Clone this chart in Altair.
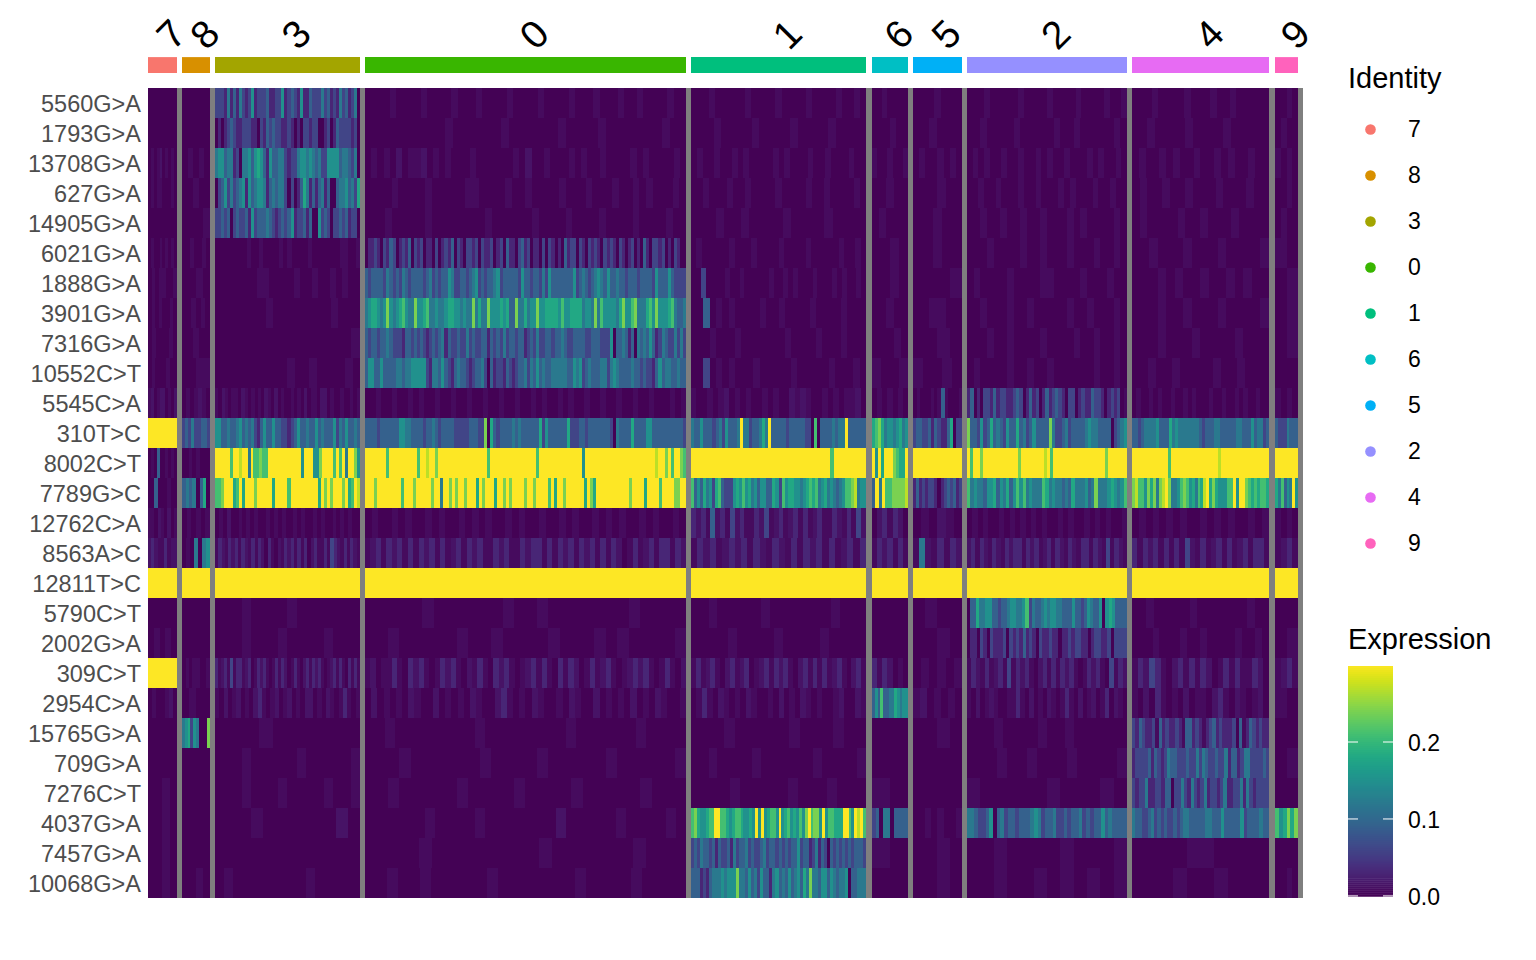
import altair as alt
import pandas as pd

CLUSTERS = ["7", "8", "3", "0", "1", "6", "5", "2", "4", "9"]
CLUSTER_COLORS = ["#F8766D", "#D89000", "#A3A500", "#39B600", "#00BF7D", "#00BFC4", "#00B0F6", "#9590FF", "#E76BF3", "#FF62BC"]
CLUSTER_CELLS = [29, 28, 145, 321, 175, 36, 49, 160, 137, 23]
GAP_CELLS = [5, 5, 5, 5, 6, 5, 5, 5, 6, 5]
GENES = ["5560G>A", "1793G>A", "13708G>A", "627G>A", "14905G>A", "6021G>A", "1888G>A", "3901G>A", "7316G>A", "10552C>T",
         "5545C>A", "310T>C", "8002C>T", "7789G>C", "12762C>A", "8563A>C", "12811T>C", "5790C>T", "2002G>A", "309C>T",
         "2954C>A", "15765G>A", "709G>A", "7276C>T", "4037G>A", "7457G>A", "10068G>A"]
LEVELS = {"0": 0, "a": 0.022, "b": 0.045, "1": 0.1, "2": 0.2, "3": 0.3, "4": 0.4, "5": 0.5, "6": 0.6, "7": 0.7, "8": 0.8, "9": 0.9, "x": 1.0}
MAX_EXPRESSION = 0.3

# one string per cluster, in CLUSTERS order; each letter is a read level, spread evenly over the cluster
R00 = ["0", "0", "2221 4131 4212 5122 2311 2251 2321 5113 2224 2312 1423 1240", "0000 a000 0a00 00a0 00a0 000a 0000 a000 0a00 0a00 0a00 a000 0a00", "000a 0000 0a00 00a0 000a 0000 a00a 0", "00a0 000", "000a 000", "000a 0000 0a00 00a0 000a 0000 a00a", "000a 0000 a000 a00a 0000 0", "00a0"]
R01 = ["0", "0", "0101 2321 1222 1102 1323 2211 2101 0221 2200 1201 3222 2120", "0000 0000 00a0 0000 0a00 0000 a000 0a00 0000 0a00", "000a 0000 a000 0a00 00a0 000", "000a 00", "00a0 00", "00a0 000a 0000 0a00 a000 00a0", "00a0 000a 0000 a000 00", "0a00"]
R02 = ["0a0a b0a0 a0", "0a0a 0", "4553 4412 0445 3565 3153 3442 1224 5545 4342 2555 5344 3240", "0a0a 0b0a ab0a 0a00 0a00 0000 a0b0 0a00 0a0a 00a0 000a 0a00 00a0", "0a00 a00a 0a00 00a0 a000 a00a 000a 00", "a00a 00a", "0a00 a0a0", "0a0a 00a0 0a00 a0a0 0a00 0a0a 00a0", "0a00 a0a0 0a00 a0a0 0a00", "a0a0"]
R03 = ["0a0a a000 a0", "00a0 0", "0235 2423 4515 3455 4134 3442 0201 3641 3134 1300 3445 3426", "0000 a000 0a00 000a a000 0a00 a000 0a00 0a00 0a00 a0a0 00a0", "00a0 00a0 0a00 00a0 000a 00a0 000a 0", "00a0 0", "000a 00", "00a0 0a00 0a00 a000 a0a0 00a0 0a00", "0a00 a00a 000a 000a 00", "00a0"]
R04 = ["0", "000a", "2232 3023 2231 5233 3432 1232 3512 2313 0052 3202 2323 1220", "000a 0000 0a00 0000 00a0 0000 0a00 00a0 000a 0000 a000 0a00", "000a 00a0 000a 0000 a000 0", "0a00 0", "00a0 0", "00a0 0a00 a00a 000a 0a00 00a0", "0a00 00a0 0a00 0a00 00", "0a00"]
R05 = ["0a00 a0a0 a0", "00a0 0a0", "0000 0000 a00a 0000 a0a0 000a 0000 000a a00a", "0112 1021 3201 2130 2120 1102 0121 3021 0221 2021 1201 2031 1023 1201 1020 2101 0312 2021 0212 1021 2102 1012 0103 1022 1201 0210 0", "0a00 000a 000a 0000 a000 0a00 000a 00a0", "00a0", "00a0 0", "000a 0000 a00a 000a 000a 00a0", "00a0 00a0 00a0 000a", "a0"]
R06 = ["0a0a a00a", "00a0", "0000 000a a000 0a00 a00a 0a00", "3233 3324 3232 4323 3332 3423 2335 4223 3234 5232 3345 2333 3325 3323 3242 5333 3333 5234 3234 5435 3343 3233 3233 3325 3335 3222 2", "0020 000a 00a0 0000 a00a 0a00 0a00 0a0a 00a0", "00a0", "000a", "0a00 00a0 000a a000 0a00 0a00", "000a 0a00 a00a 0a00", "0a"]
R07 = ["0a0a 00a0", "00a0 a0", "0000 000a 0000 0000 a000", "4566 5458 5456 7544 8556 7445 4456 6554 5448 4644 8555 6563 3844 6455 8556 6665 7556 6664 5548 4755 5546 8557 8444 6758 5556 7433 4", "0030 a0a0 000a 00a0 000a 0000 a000", "00a0 0", "0a0", "00a0 00a0 0a00 000a 00a0 00a0", "000a 00a0 00a0 000a", "0a"]
R08 = ["0a00 0a0", "00a0 0", "0000 0000 0000 000a", "3233 2334 3222 1332 3232 1232 3413 2232 2423 2233 1323 2423 3233 1232 4223 3233 4322 3333 2233 3222 5033 4313 0434 3531 2432 2424 2", "000a 000a 0000 000a 0000 a000 a000", "000a 0", "00a0", "000a 00a0 000a 0000 a00a 00a0", "000a 000a 0000 a000", "0a"]
R09 = ["0a00 0a00", "0a", "0000 0000 00a0 0a00 00a0", "3553 3533 3344 3445 5555 2144 3532 1343 3212 3342 0312 2132 1233 4243 5343 3444 4433 5452 3433 3442 4543 3334 3323 2213 5344 3343 3", "0020 a0a0 00a0 0000 a000 00a0 00a0", "a00a", "a00a 0", "0a00 00a0 0a00 a000 000a 00a0", "00a0 0a00 00a0 0a00 0", "00"]
R10 = ["ab0a bb0a 0b", "0a0a ba0", "a0ba 0aa0 ba0a 0a0b a0b0 a00a 0a0b 0aa0 bb0a 00a0 0a0a", "00a0 0a00 a0a0 0a00 a00a 00a0 0a00 a00a 0a00 a0a0 0a00 a00a 00a0 0a00 0a0a", "a00a 0ab0 a0a0 0a0a 00ba ba00 a0a0 aab0", "0a0a 0a0", "0a00 0a0a 3a00 0a", "1301 0221 3122 1123 2013 1201 3123 2102 2012 1132 2101 2120 a", "0a00 a0a0 0a00 a0a0 00a0 0a00 a0a0 0a00", "a0a0"]
R11 = ["x", "2324 2233 2", "5533 4334 5343 4213 5335 3322 1235 3343 3534 3335 2435 3343", "3333 2333 3335 5443 3332 3343 2333 3222 2233 3228 0632 3333 4343 3333 3625 3333 3362 2233 2333 3333 2043 3336 3333 5533 3333 3333 2", "4335 3332 3425 3334 x442 3346 4x33 3332 3333 3220 7033 3343 44x3 3333 3", "6786 4554 5645", "2332 2313 2113 6022", "8332 5236 3432 5336 3423 5333 3842 2342 3333 4544 3333 0234 5", "3323 4444 5333 6454 4444 4432 3334 4333 3344 3335 3442 3", "3222 4333"]
R12 = ["0a03 00a0 a0", "00a0 a000", "xxxx x7xx 9xx4 x778 77xx xxxx xxxx x5xx x558 xxxx 7x7x 4xx85", "xxxx xxx7 xxxx xxxx x7xx 9xx8 xxxx xxxx xxxx xxxx 7xxx xxxx xxxx xxxx 7xxx xxxx xxxx xxx5 xxxx xxxx xxxx xxxx xxxx xxx9 xx8x 7xx8 7", "xxxx xxxx xxxx xxxx xxxx xxxx xxxx xxxx xxxx xxxx xxx7 xxxx xxxx xx", "x5x6 xxx8 766x", "x", "x7xx 8xxx xxxx xxxx 8xxx xxxx 9x7x xxxx xxxx xxxx xxx8 xxxx xx", "xxxx xxxx xxxx 7xxx xxxx xxxx xxxx x9xx xxxx xxxx xxxx xx", "x"]
R13 = ["0030 00a0 0", "3434 0360", "778x xx67 x6xx x8xx xxx6 xxxx 7xxx xxxx xx6x 8x8x xx8x 67x9", "xxx8 xxxx xxxx 7xxx 8xxx xx8x x4xx 8x8x x8xx x6x8 xxx6 xx8x 8xxx x8xx 8xxx x7x6 xx8x xxxx x6x8 6xxx xxxx xxxx 8xxx x6xx xx7x xxx8 8xx", "7353 6452 6732 2256 5756 4535 5336 5275 6655 4567 6745 6454 3457 7894 55", "3x4x 7788 889", "1312 1221 0123 2312", "7454 4355 6354 6357 5745 4447 6454 4343 6444 5348 4445 6545 7", "8977 5868 489x 8445 7875 6476 9x68 6555 77x5 xx87 6767 76", "6473 54x5"]
R14 = ["aa0b a0b0 a", "0a0a 0a", "0a0b 00a0 a0a0 0a0a 0a00 a0a0 0a0a 00a0 a0a0 0", "0a00 a0a0 0a0a 00a0 a0a0 0a0a 00a0 0a0a 00a0 a0a0 0a0a 00a0", "1b1a 3b1a 2b1a a1b2 ab1a b1a1 ab1a a1ba 1a2b", "0b1a 1b0", "0a0b a0", "0a0a 00a0 a0a0 a0a0 0a0a 00a0 a0a0 0a", "0a0a 0a0a 00a0 a0a0 0a0a", "a0a0"]
R15 = ["b1ba a1ab b", "0a04 045", "a1ba 1b1a 1ba1 a1b0 1a0b a1b1 a1a1 0b1a a1a2 1ba1 a1ba", "ab1a 1b1a 1a1b 1a1a b1a1 b1aa 1b1a a1b1 1a1a 1b1a 1b1a 1a1b 0a1a b1a1 1a1b", "a1b1 ab1b 1a1b a1ba 1a1b 1a1a b1a1", "a1b1 a1a", "a4ba 1a1b", "b1a1 ba1b a1b1 1a1b 1ab1 a1ba 1ba1 1a1b a2a1 ba", "1a1b 1a1a 1a2b a1ab 1a1a b1a1 1a", "ab1a"]
R16 = ["x", "x", "x", "x", "x", "x", "x", "x", "x", "x"]
R17 = ["0", "0", "000a 0000 a000 0000", "0000 0a00 0000 a00a 0000 000a 0000", "00a0 0000 a000 0000 a000", "0", "0a00", "0336 4455 3323 3455 4457 2433 4545 5443 3353 3235 4335 0565 3333", "00a0 0000 a000 0000 a00", "0"]
R18 = ["0a0a 0", "0", "000a 000a 0000 a000", "00a0 0000 a00a 0000 a000 a0a0 000a", "0000 a000 0a00 00a0 000", "0", "00a0", "0110 2102 1112 0212 1312 1021 1211 0112 1221 1012 2112 0222 2", "000a 000a 00a0 000a 00a0", "0a"]
R19 = ["x", "0a0a a00a", "1ab1 a2a1 1ab1 0a1b 1a0a 1a1b 0a1a 0b1a 1b1a 0ab1 a1a0 1a1a", "ab0a a1a0 1b1a 0a1b 1a0b a1a0 1b1a 0ab1 a1a0 1a1b 0a1a b1a0 ab1b 1a0a 1a0b", "a1ab 1a0b 1ab1 0ab1 a1b1 a0b1 a1a1 ab1a 0b1a", "1a1b 0a0", "0a0a 0a", "a1ba 1ab1 a2a1 b1a0 b1a1 a1b1 a0a1 b1a0 2a1b", "a1b2 1a0b 1a1a 1b0a 1a1a a1b0", "ab1a"]
R20 = ["0a00 ab0", "0a00", "a0b0 ab0a 0b1a 0ab0 ab0a 0bb0 a0ba 0a1a 0a", "0b0a 0a0b a00b 0a0a 0ba0 0b1a 0a0b a00a 0ba0 0b0a 0a0b 0a0b a00a", "0a1a 0ba0 a0ba 00a0 b0a0 ba0a 00ab 00ba", "3537 3344 6545 5", "ab0a 0a0", "a0b0 aba0 0aa1 a0b0 a0ba 0a1a 0b0a b0a1 0ba0", "a0b0 1a0a 0b0a a0b1 a0ba 0ab0", "a0"]
R21 = ["0", "4562 5400 08", "000a 0000 00", "00a0 0000 000a 0000 0000 a000 000a 0000", "000a 0000 0a00 0a00", "0", "00a0", "000a 0000 a00a 0000 00", "2132 112a 3121 121a 3312 1a12 3121 1120 3a13 2121 1", "0"]
R22 = ["0", "0", "000a 0000 0a00 000a", "000a 0000 00a0 000a 0000 0a00 000a", "00a0 000a 0000 00a0 000a", "0", "0", "000a 00a0 00a0 000a", "1222 2313 2124 3322 2322 4243 2232 2413 3124 4222 232", "0a"]
R23 = ["00a0", "0", "000a 000a 0000 a00a", "00a0 0000 a000 0a00 00a0 0000 a000", "0000 a000 00a0 00a0 00", "a0", "0", "a000 00a0 00a0", "2122 4112 2133 0224 2142 1241 2212 4112 2414 2122 22", "0"]
R24 = ["00a0", "0", "000a 0000 00b0", "0000 00a0 000a 0000 000b 0000 0a00 00a0", "7865 5677 xx77 6567 7655 65x5 x567 75x5 6756 5758 x788 5x57 7666 xx75 x9x7", "2304 4033 33", "00a0 a00a", "4432 2350 3423 3233 3454 2334 2232 3342 3233 5343 333", "4332 2342 3232 2323 4433 3334 4333 5333 3352 3333 433", "7 5 6 8 6 8"]
R25 = ["00a0", "0", "0", "0000 a000 0000 0a00 0000 a000", "2324 3323 1322 3142 3342 3223 4233 2323 2335 2331 2413 2032 3232 3233 32", "a0", "00a0", "00a0 000a 000a", "00a0 0", "0"]
R26 = ["00a0", "00a0", "0a00 0000 00a0 0000", "00a0 0a00 000a 0000 000a 0000 a000 0", "3331 2134 4454 5558 4435 3425 3314 5343 5345 3648 4435 5354 3445 0334 44", "0", "00a0", "00a0 0a0a 0a0a", "000a 00a0 00", "00a0"]
ROWS = [R00, R01, R02, R03, R04, R05, R06, R07, R08, R09, R10, R11, R12, R13, R14, R15, R16, R17, R18, R19, R20, R21, R22, R23, R24, R25, R26]

EXPRESSION_TICKS = [0.0, 0.1, 0.2]

# cluster layout in cell units (one unit is one pixel of the 1155 px plot)
groups, gaps = [], []
pos = 0
for name, color, cells, gap in zip(CLUSTERS, CLUSTER_COLORS, CLUSTER_CELLS, GAP_CELLS):
    groups.append(dict(name=name, color=color, x0=pos, x1=pos + cells, mid=pos + cells / 2, top=-1.03, bottom=-0.5, lab=-1.43))
    gaps.append(dict(x0=pos + cells, x1=pos + cells + gap, r0=0, r1=len(GENES)))
    pos += cells + gap

cells = []
for r, row in enumerate(ROWS):
    for g, text in zip(groups, row):
        s = text.replace(" ", "")
        w = g["x1"] - g["x0"]
        i = 0
        while i < len(s):
            j = i
            while j + 1 < len(s) and s[j + 1] == s[i]:
                j += 1
            cells.append(dict(x0=g["x0"] + round(i * w / len(s)), x1=g["x0"] + round((j + 1) * w / len(s)),
                              r0=r, r1=r + 1, v=LEVELS[s[i]] * MAX_EXPRESSION))
            i = j + 1

# the colour bar: strips of the same colour scale, placed on the row scale so the ticks can sit on top
BAR_STEPS = 115
BAR_LEFT, BAR_RIGHT = 1200, 1245
BAR_ROW_ZERO, BAR_ROW_PER_UNIT = 26.96, 25.65
bar_cells = []
for k in range(BAR_STEPS):
    lo = MAX_EXPRESSION * k / BAR_STEPS
    hi = MAX_EXPRESSION * (k + 1.3) / BAR_STEPS
    bar_cells.append(dict(x0=BAR_LEFT, x1=BAR_RIGHT, r0=BAR_ROW_ZERO - lo * BAR_ROW_PER_UNIT,
                          r1=BAR_ROW_ZERO - min(hi, MAX_EXPRESSION) * BAR_ROW_PER_UNIT, v=lo))

FONT = "Liberation Sans"
X = alt.Scale(domain=[0, pos], nice=False, zero=False)
Y = alt.Scale(domain=[len(GENES), -2.667], nice=False, zero=False)
COLOR_SCALE = alt.Scale(scheme="viridis", domain=[-0.001, MAX_EXPRESSION], nice=False, zero=False)

heat = alt.Chart(pd.DataFrame(cells)).mark_rect(strokeWidth=0).encode(
    x=alt.X("x0:Q", scale=X, axis=None),
    x2="x1:Q",
    y=alt.Y("r0:Q", scale=Y, axis=None),
    y2="r1:Q",
    color=alt.Color("v:Q", scale=COLOR_SCALE,
                    legend=alt.Legend(title="Expression", orient="none", legendX=1200, legendY=618,
                                      gradientLength=231, gradientThickness=46, values=EXPRESSION_TICKS, format=".1f",
                                      titleFontSize=29, titleFontWeight="normal", titleFont=FONT, titleColor="black",
                                      labelFontSize=23, labelFont=FONT, labelColor="black", labelOffset=14, titlePadding=12.5,
                                      gradientOpacity=0, gradientStrokeWidth=0)),
)
bar_layer = alt.Chart(pd.DataFrame(bar_cells)).mark_rect(strokeWidth=0).encode(
    x=alt.X("x0:Q", scale=X, axis=None), x2="x1:Q", y=alt.Y("r0:Q", scale=Y, axis=None), y2="r1:Q",
    color=alt.Color("v:Q", scale=COLOR_SCALE, legend=None))
gap_layer = alt.Chart(pd.DataFrame(gaps)).mark_rect(color="#7F7F7F", strokeWidth=0).encode(
    x=alt.X("x0:Q", scale=X, axis=None), x2="x1:Q", y=alt.Y("r0:Q", scale=Y, axis=None), y2="r1:Q")
gdf = pd.DataFrame(groups)
bars = alt.Chart(gdf).mark_rect(strokeWidth=0).encode(
    x=alt.X("x0:Q", scale=X, axis=None), x2="x1:Q", y=alt.Y("top:Q", scale=Y, axis=None), y2="bottom:Q",
    fill=alt.Fill("name:N", sort=CLUSTERS, scale=alt.Scale(domain=CLUSTERS, range=CLUSTER_COLORS),
                  legend=alt.Legend(title="Identity", orient="none", legendX=1200, legendY=57, symbolType="circle",
                                    symbolSize=113, symbolStrokeWidth=0, rowPadding=22, symbolOffset=11, labelOffset=26,
                                    titleFontSize=29, titleFontWeight="normal", titleFont=FONT, titleColor="black",
                                    labelFontSize=23, labelFont=FONT, labelColor="black", titlePadding=24)),
)
labels = alt.Chart(gdf).mark_text(fontSize=39, font=FONT, angle=315, align="left", baseline="middle", color="black", dx=3).encode(
    x=alt.X("mid:Q", scale=X, axis=None), y=alt.Y("lab:Q", scale=Y, axis=None), text="name:N")
gene_df = pd.DataFrame(dict(gene=GENES, r=[i + 0.5 for i in range(len(GENES))]))
gene_labels = alt.Chart(gene_df).mark_text(fontSize=23.5, font=FONT, align="right", baseline="middle", color="#4D4D4D", dy=2).encode(
    x=alt.value(-7), y=alt.Y("r:Q", scale=Y, axis=None), text="gene:N")

# white tick marks across the colour bar's edges: expression value placed on the row scale
ticks = pd.DataFrame(dict(v=EXPRESSION_TICKS))
ticks["r"] = BAR_ROW_ZERO - 0.03 - ticks["v"] * BAR_ROW_PER_UNIT
ticks["xa"], ticks["xb"], ticks["xc"], ticks["xd"] = 1200, 1210, 1235, 1245
tick_l = alt.Chart(ticks).mark_rule(color="white", strokeWidth=1.2, opacity=0.85).encode(
    x=alt.X("xa:Q", scale=X, axis=None), x2="xb:Q", y=alt.Y("r:Q", scale=Y, axis=None))
tick_r = alt.Chart(ticks).mark_rule(color="white", strokeWidth=1.2, opacity=0.85).encode(
    x=alt.X("xc:Q", scale=X, axis=None), x2="xd:Q", y=alt.Y("r:Q", scale=Y, axis=None))

chart = alt.layer(heat, bar_layer, gap_layer, bars, labels, gene_labels, tick_l, tick_r).resolve_scale(color="shared", fill="independent").properties(
    width=pos, height=890,
    padding={"left": 140, "top": 0, "right": 215, "bottom": 30},
    autosize=alt.AutoSizeParams(type="none"),
).configure_view(strokeWidth=0)
chart.save("out.html", embed_options={"renderer": "svg", "actions": False})
